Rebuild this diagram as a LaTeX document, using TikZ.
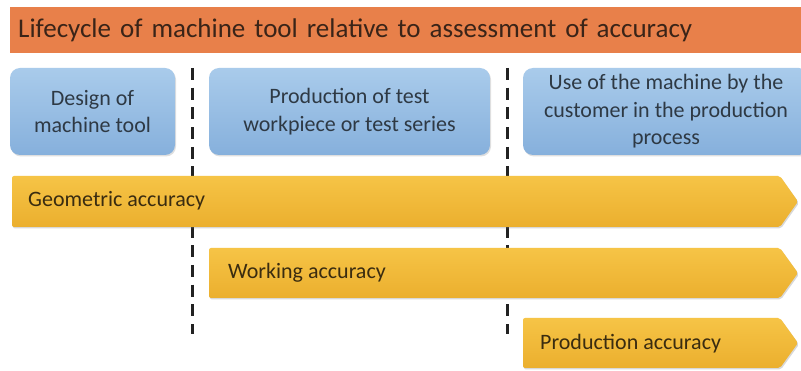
\documentclass[tikz,border=0pt]{standalone}
\usepackage{fontspec}
\setmainfont{Carlito}
\usetikzlibrary{shadows}
\definecolor{orangebar}{HTML}{E8804A}
\definecolor{titletext}{HTML}{3A2418}
\definecolor{bluetop}{HTML}{A9CBEB}
\definecolor{bluebot}{HTML}{86B0DC}
\definecolor{bluetext}{HTML}{2E3944}
\definecolor{yeltop}{HTML}{F6C446}
\definecolor{yelbot}{HTML}{EBAF2E}
\definecolor{yeltext}{HTML}{3A2C10}
\definecolor{dashcol}{HTML}{222222}
\tikzset{
  titlebar/.style={fill=orangebar, minimum width=791pt, minimum height=46pt, anchor=north west,
    text width=775pt, inner xsep=8pt, align=left, text=titletext,
    font=\fontsize{27}{30}\selectfont},
  phasebox/.style={rounded corners=10pt, top color=bluetop, bottom color=bluebot,
    minimum height=87pt, align=center, text=bluetext, inner sep=0pt,
    font=\fontsize{22}{27.5}\selectfont,
    drop shadow={shadow xshift=1pt, shadow yshift=-1.5pt, opacity=0.25}},
  accarrow/.style={rounded corners=2pt, top color=yeltop, bottom color=yelbot,
    drop shadow={shadow xshift=1pt, shadow yshift=-1.5pt, opacity=0.3}},
  acctext/.style={anchor=west, text=yeltext, inner sep=0pt, font=\fontsize{22}{26}\selectfont},
  divider/.style={draw=dashcol, line width=3pt, dash pattern=on 12pt off 7.7pt}
}
\begin{document}
\begin{tikzpicture}[x=1pt,y=-1pt]
\useasboundingbox (0,0) rectangle (801,371);
\fill[white] (0,0) rectangle (801,371);

% dividers (behind)
\coordinate (d1top) at (192,68);
\coordinate (d1bot) at (192,334);
\coordinate (d2top) at (507,68);
\coordinate (d2bot) at (507,334);
\draw[divider] (d1top) -- (d1bot);
\draw[divider] (d2top) -- (d2bot);

% title
\node[titlebar] (title) at (10,7) {Lifecycle of machine tool relative to assessment of accuracy};

% phase boxes
\node[phasebox, minimum width=165pt] (design) at (92.5,111.5) {Design of\\machine tool};
\node[phasebox, minimum width=281pt] (prod) at (349.5,111.5) {Production of test\\workpiece or test series};
\node[phasebox, minimum width=286pt] (use) at (666,111.5) {Use of the machine by the\\customer in the production\\process};

% accuracy arrows
\path[accarrow] (12,176) -- (780,176) -- (798,201.5) -- (780,227) -- (12,227) -- cycle;
\path[accarrow] (209,248) -- (780,248) -- (798,273) -- (780,298) -- (209,298) -- cycle;
\path[accarrow] (523,318) -- (780,318) -- (798,343) -- (780,368) -- (523,368) -- cycle;

\node[acctext] (geo) at (28,201) {Geometric accuracy};
\node[acctext] (work) at (228,273) {Working accuracy};
\node[acctext] (prodacc) at (540,344) {Production accuracy};
\end{tikzpicture}
\end{document}
